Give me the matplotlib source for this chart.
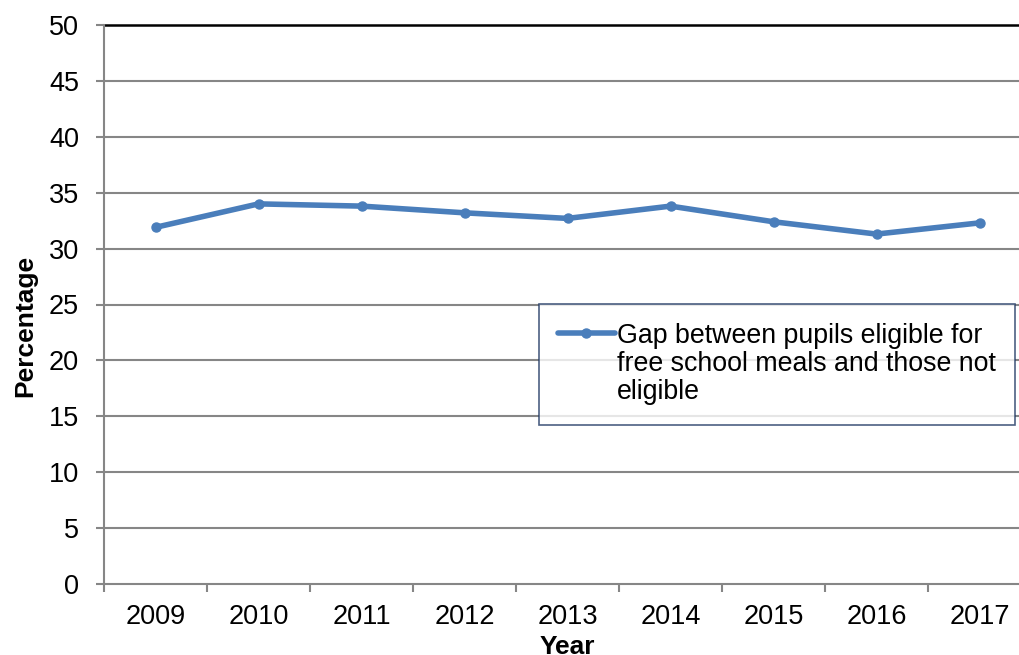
import matplotlib
matplotlib.use('Agg')
import matplotlib.pyplot as plt

plt.rcParams['font.family'] = ['Liberation Sans', 'DejaVu Sans']

years = ['2009', '2010', '2011', '2012', '2013', '2014', '2015', '2016', '2017']
gap = [31.9, 34.0, 33.8, 33.2, 32.7, 33.8, 32.4, 31.3, 32.3]
y_ticks = [0, 5, 10, 15, 20, 25, 30, 35, 40, 45, 50]
series_label = 'Gap between pupils eligible for\nfree school meals and those not\neligible'

W, H = 1019, 655
fig = plt.figure(figsize=(W / 100, H / 100), dpi=100)
ax = fig.add_axes([104 / W, (H - 584) / H, 927 / W, 559 / H])

x = list(range(len(years)))
ax.plot(x, gap, color='#4A7EBB', linewidth=4.0, marker='o', markersize=6.5,
        label=series_label, solid_capstyle='round', zorder=3)

ax.set_xlim(-0.5, len(years) - 0.5)
ax.set_ylim(0, 50)
ax.set_yticks(y_ticks)
ax.set_xticks(x)
ax.set_xticklabels(years)
ax.set_xticks([i - 0.5 for i in range(len(years) + 1)], minor=True)
ax.tick_params(axis='x', which='major', length=0, pad=14.5, labelsize=19.5)
ax.tick_params(axis='x', which='minor', length=6, color='#868686', width=1.5)
ax.tick_params(axis='y', length=6, color='#868686', width=1.5, pad=12, labelsize=19.5)

# horizontal gridlines, top one darker
for t in y_ticks[1:-1]:
    ax.axhline(t, color='#868686', linewidth=1.5, zorder=1)
for s in ['top', 'right']:
    ax.spines[s].set_visible(False)
ax.axhline(50, color='black', linewidth=1.8, zorder=1, clip_on=False)
ax.spines['left'].set_color('#868686')
ax.spines['left'].set_linewidth(1.5)
ax.spines['bottom'].set_color('#868686')
ax.spines['bottom'].set_linewidth(1.5)

ax.set_ylabel('Percentage', fontsize=19, fontweight='bold')
ax.yaxis.set_label_coords(-0.0723, 0.4615)
ax.set_xlabel('Year', fontsize=19, fontweight='bold')
ax.xaxis.set_label_coords(0.5, -0.092)

leg = fig.legend(loc='upper left', bbox_to_anchor=(539 / W, 1 - 304 / H),
                 borderaxespad=0, fontsize=19.3, frameon=True, fancybox=False,
                 handlelength=2.1, handletextpad=0.1, borderpad=0.72)
leg.get_frame().set_edgecolor('#1F3864')
leg.get_frame().set_linewidth(1.2)
leg.get_texts()[0].set_linespacing(1.1)
# put the legend line next to the first text line, as in the original
for row in leg._legend_handle_box.get_children():
    for item in row.get_children():
        item.align = 'top'

fig.savefig('out.png', dpi=100)
